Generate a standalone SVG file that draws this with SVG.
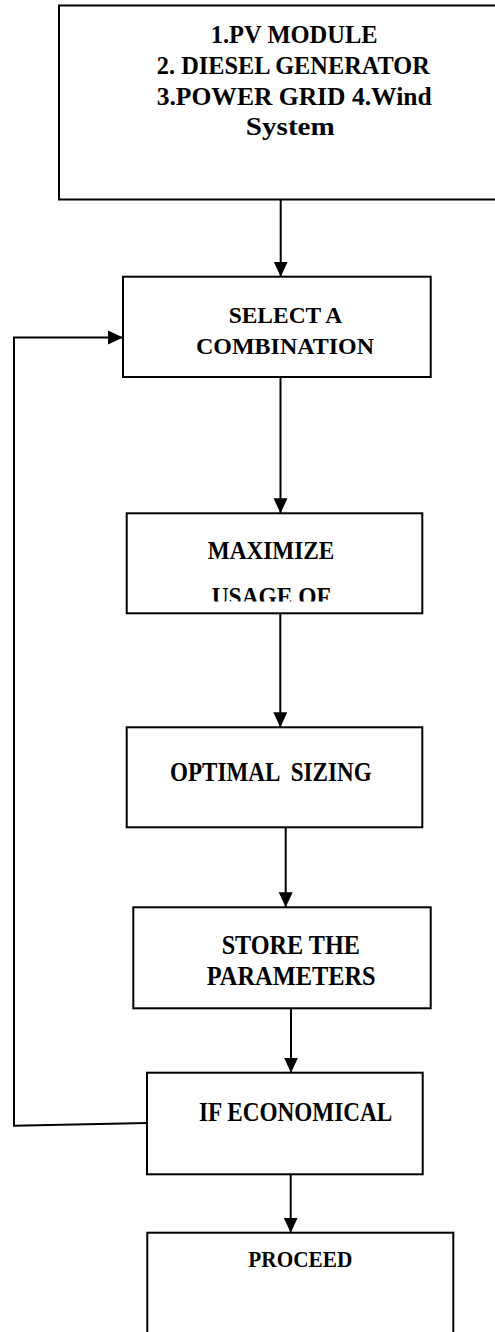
<svg xmlns="http://www.w3.org/2000/svg" width="495" height="1332" viewBox="0 0 495 1332">
<style>
.box{fill:#fff;stroke:#000;stroke-width:2}
.t{font-family:"Liberation Serif","Times New Roman",serif;font-weight:bold;fill:#000;text-anchor:middle}
.c{fill:none;stroke:#000;stroke-width:2}
</style>
<defs>
<marker id="ah" markerUnits="userSpaceOnUse" markerWidth="16" markerHeight="16" refX="15" refY="7" orient="auto">
<path d="M0,0 L15,7 L0,14 z" fill="#000"/>
</marker>
<clipPath id="clipMax"><rect x="126" y="513" width="297" height="88.5"/></clipPath>
</defs>
<rect width="495" height="1332" fill="#fff"/>
<g id="connectors">
<line class="c" x1="280.7" y1="200" x2="280.7" y2="276.7" marker-end="url(#ah)"/>
<line class="c" x1="280.5" y1="377" x2="280.5" y2="513.3" marker-end="url(#ah)"/>
<line class="c" x1="280.3" y1="613.3" x2="280.3" y2="727.3" marker-end="url(#ah)"/>
<line class="c" x1="285.7" y1="827.3" x2="285.7" y2="907.3" marker-end="url(#ah)"/>
<line class="c" x1="291" y1="1008.3" x2="291" y2="1072.7" marker-end="url(#ah)"/>
<line class="c" x1="290.7" y1="1174.3" x2="290.7" y2="1232.7" marker-end="url(#ah)"/>
<polyline class="c" points="147,1123 14,1125.7 14,337.5 123,337.5" marker-end="url(#ah)"/>
</g>
<g id="sources">
<rect class="box" x="59" y="5.5" width="450" height="194"/>
<text class="t" font-size="24.5" x="294.2" y="43" textLength="167" lengthAdjust="spacingAndGlyphs">1.PV MODULE</text>
<text class="t" font-size="24.5" x="293.3" y="74" textLength="273" lengthAdjust="spacingAndGlyphs">2. DIESEL GENERATOR</text>
<text class="t" font-size="24.5" x="294.2" y="104.5" textLength="275" lengthAdjust="spacingAndGlyphs">3.POWER GRID 4.Wind</text>
<text class="t" font-size="24.5" x="290.3" y="135" textLength="89" lengthAdjust="spacingAndGlyphs">System</text>
</g>
<g id="select">
<rect class="box" x="123" y="276.7" width="307.7" height="100.3"/>
<text class="t" font-size="23" x="285.5" y="323.3" textLength="113.6" lengthAdjust="spacingAndGlyphs">SELECT A</text>
<text class="t" font-size="23" x="285" y="354" textLength="178" lengthAdjust="spacingAndGlyphs">COMBINATION</text>
</g>
<g id="maximize">
<rect class="box" x="126.7" y="513.3" width="295.6" height="100"/>
<text class="t" font-size="26" x="271" y="559" textLength="126.6" lengthAdjust="spacingAndGlyphs">MAXIMIZE</text>
<text class="t" font-size="26" x="271.3" y="604.5" textLength="119.3" lengthAdjust="spacingAndGlyphs" clip-path="url(#clipMax)">USAGE OF</text>
</g>
<g id="optimal">
<rect class="box" x="126.7" y="727.3" width="295.6" height="100"/>
<text class="t" font-size="26.5" x="270.8" y="780.7" textLength="201.7" lengthAdjust="spacingAndGlyphs" xml:space="preserve">OPTIMAL  SIZING</text>
</g>
<g id="store">
<rect class="box" x="133.3" y="907.3" width="297.4" height="101"/>
<text class="t" font-size="26.5" x="290.8" y="954" textLength="138.3" lengthAdjust="spacingAndGlyphs">STORE THE</text>
<text class="t" font-size="26.5" x="291.2" y="985" textLength="169" lengthAdjust="spacingAndGlyphs">PARAMETERS</text>
</g>
<g id="economical">
<rect class="box" x="147" y="1072.7" width="275.7" height="101.6"/>
<text class="t" font-size="26.5" x="295.7" y="1121" textLength="193.3" lengthAdjust="spacingAndGlyphs">IF ECONOMICAL</text>
</g>
<g id="proceed">
<rect class="box" x="147.3" y="1232.7" width="306" height="120"/>
<text class="t" font-size="23.5" x="300.3" y="1266.7" textLength="104" lengthAdjust="spacingAndGlyphs">PROCEED</text>
</g>
</svg>
